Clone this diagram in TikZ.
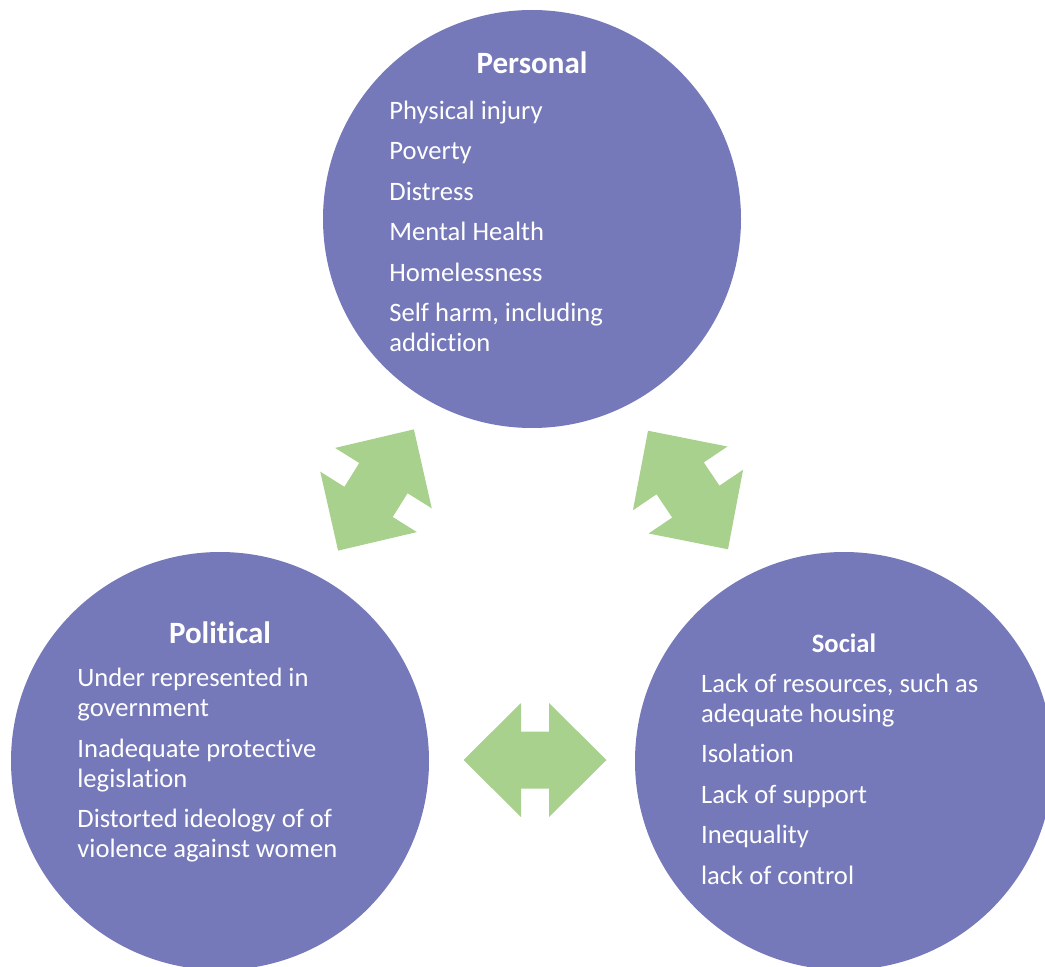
\documentclass[tikz,border=0pt]{standalone}
\usepackage{fontspec}
\setmainfont{Carlito}[Ligatures={NoCommon}]
\usetikzlibrary{calc}

\definecolor{ringblue}{RGB}{117,120,185}
\definecolor{linkgreen}{RGB}{169,209,142}
\newcommand{\itemgap}{\\[5.25pt]}

\begin{document}
\begin{tikzpicture}[x=0.5pt, y=0.5pt,
    area/.style = {circle, fill=ringblue, inner sep=0, minimum size=209pt},
    heading/.style = {anchor=base, text=white, inner sep=0, font=\fontsize{15.5}{18}\selectfont\bfseries},
    items/.style = {anchor=base west, text=white, align=left, inner sep=0, font=\fontsize{13.3}{15}\selectfont},
    twoway/.pic = {\fill[linkgreen] (-71.5,0) -- (-14,57) -- (-14,28.5) -- (14,28.5) -- (14,57)
        -- (71.5,0) -- (14,-57) -- (14,-28.5) -- (-14,-28.5) -- (-14,-57) -- cycle;}]
    \useasboundingbox (0,0) rectangle (1045,966);

    % the three areas
    \node[area] (personal) at (532,747) {};
    \node[area] (political) at (220,205) {};
    \node[area] (social) at (844,205) {};

    % two-way links between them
    \pic[rotate=58] at ($(political)!0.5!(personal)$) {twoway};
    \pic[rotate=-56] at ($(personal)!0.5!(social)$) {twoway};
    \pic at ($(political)!0.5!(social)+(3,1)$) {twoway};

    % lists sit on the baseline of their last line
    \node[heading] (personal-head) at ($(personal)+(0,145)$) {Personal};
    \node[items] (personal-list) at ($(personal)+(-143,-133)$)
        {Physical injury\itemgap Poverty\itemgap Distress\itemgap Mental Health\itemgap
         Homelessness\itemgap Self harm, including\\addiction};

    \node[heading] (political-head) at ($(political)+(0,117.7)$) {Political};
    \node[items] (political-list) at ($(political)+(-143,-96.5)$)
        {Under represented in\\government\itemgap Inadequate protective\\legislation\itemgap
         Distorted ideology of of\\violence against women};

    \node[heading, font=\fontsize{13.3}{15}\selectfont\bfseries] (social-head) at ($(social)+(0,108.3)$) {Social};
    \node[items] (social-list) at ($(social)+(-143.3,-123)$)
        {Lack of resources, such as\\adequate housing\itemgap Isolation\itemgap Lack of support\itemgap
         Inequality\itemgap lack of control};
\end{tikzpicture}
\end{document}
